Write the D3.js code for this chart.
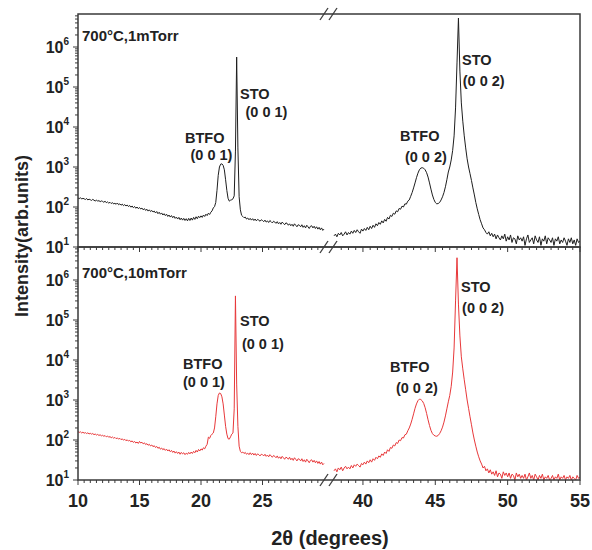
<!DOCTYPE html>
<html>
<head>
<meta charset="utf-8">
<script src="https://cdn.jsdelivr.net/npm/d3@7"></script>
<style>
  body { margin: 0; background: #fff; }
  text { font-family: Arial, "Liberation Sans", sans-serif; font-weight: bold; fill: #222; }
</style>
</head>
<body>
<div id="chart"></div>
<script>
// sampling of the scans (deg 2theta)
const angleStep = 0.1;
const lowStart = 10;   // left part of broken axis, 10 - 30
const highStart = 38;  // right part, 38 - 55

const lowTickLabels = [10, 15, 20, 25];
const highTickLabels = [40, 45, 50, 55];
const decadeExps = [1, 2, 3, 4, 5, 6];

const panelTitles = ["700°C,1mTorr", "700°C,10mTorr"];

// 700C, 1 mTorr  (black)
const scan1mLow = [
  168,162,171,158,165,160,154,163,150,157,
  152,146,155,148,141,150,139,145,136,142,
  138,131,140,128,134,125,131,122,129,119,
  124,117,126,114,120,111,118,108,115,106,
  112,103,109,99,106,96,103,93,100,91,
  97,89,94,85,91,82,88,79,85,77,
  82,75,79,71,77,68,74,66,71,63,
  68,61,66,58,63,56,61,54,59,52,
  56,50,55,48,53,47,52,46,51,45,
  52,46,53,47,55,49,57,51,59,54,
  60,55,63,58,66,61,70,65,74,80,
  95,102,130,260,620,1000,1180,1200,1100,850,
  480,260,165,140,148,152,160,190,2500,560000,
  3000,180,85,62,58,54,56,50,53,48,
  52,47,51,46,50,45,49,47,44,48,
  46,43,47,42,45,41,46,43,40,44,
  42,39,43,38,41,37,42,39,36,40,
  39,35,38,34,37,33,38,35,32,36,
  35,32,36,31,34,30,35,32,29,33,
  34,30,33,29,32,28,31,27,30,26,
  28
];
const scan1mHigh = [
  19,21,18,22,20,23,19,21,24,20,
  23,21,25,22,26,23,27,24,22,28,
  25,29,26,31,27,33,29,35,31,38,
  34,41,37,45,40,49,44,55,50,62,
  58,70,66,80,76,92,88,105,100,120,
  118,140,150,185,230,300,400,540,700,850,
  940,960,930,850,720,560,400,280,200,155,
  130,120,122,130,150,180,230,320,480,750,
  1000,1500,2600,6000,30000,400000,5300000,250000,40000,14000,
  6000,3000,1600,1000,680,460,300,200,130,90,
  65,48,38,30,27,23,21,24,19,22,
  18,21,16,20,17,15,19,16,21,14,
  18,15,20,13,17,16,12,19,15,17,
  14,18,11,16,20,13,15,17,12,19,
  15,13,18,11,16,14,19,12,17,15,
  13,17,11,16,14,18,12,15,13,17,
  14,11,16,13,17,12,15,11,16,13,
  14
];

// 700C, 10 mTorr  (red)
const scan10mLow = [
  162,155,160,150,157,148,153,145,151,142,
  147,140,145,136,141,133,138,130,135,127,
  131,124,129,120,126,117,122,114,119,111,
  116,108,113,105,110,102,107,99,104,96,
  101,94,98,90,95,87,92,84,89,82,
  92,84,88,80,85,77,81,74,78,71,
  75,68,72,65,69,62,66,59,63,57,
  61,55,59,53,57,51,55,49,53,47,
  51,46,50,44,49,45,48,43,47,44,
  49,45,50,46,52,48,55,50,58,53,
  60,56,64,60,70,78,118,110,130,140,
  150,200,380,800,1300,1500,1450,1200,800,420,
  220,140,108,105,120,140,150,600,400000,2500,
  220,70,52,48,50,46,49,44,47,43,
  48,43,47,42,46,41,45,43,40,44,
  43,40,44,39,42,38,43,40,37,41,
  39,36,40,35,38,34,39,36,33,37,
  36,33,37,32,35,31,36,33,30,34,
  33,30,34,29,32,28,33,30,27,31,
  32,28,31,27,30,26,29,25,28,24,
  26
];
const scan10mHigh = [
  17,19,16,20,18,21,17,20,22,19,
  21,19,23,20,24,22,25,23,21,26,
  24,28,25,30,27,32,28,34,31,37,
  34,40,37,45,41,50,46,57,52,65,
  62,75,71,86,82,100,96,115,112,135,
  140,170,200,250,330,450,620,800,960,1050,
  1030,950,820,640,460,320,230,175,145,132,
  126,124,130,145,170,210,280,400,600,900,
  1300,2200,5000,20000,300000,3600000,250000,40000,12000,6000,
  3200,1800,1000,620,380,240,150,100,70,50,
  38,30,25,20,22,17,19,15,18,14,
  16,13,17,12,15,14,11,16,13,15,
  12,15,11,14,13,10,15,12,14,11,
  13,11,14,10,12,15,11,13,10,14,
  12,10,13,11,14,10,12,11,13,10,
  11,13,10,12,11,14,10,12,11,13,
  10,12,11,13,10,12,11,10,13,11,
  12
];

// peak labels: [text, angle, intensity at text baseline]
const peakLabels1m = [
  ["STO", 23.17, 50000], ["(0 0 1)", 23.62, 17800],
  ["BTFO", 18.7, 4000], ["(0 0 1)", 19.15, 1500],
  ["STO", 46.85, 355000], ["(0 0 2)", 46.9, 106000],
  ["BTFO", 42.56, 4470], ["(0 0 2)", 42.9, 1330]
];
const peakLabels10m = [
  ["STO", 23.17, 71000], ["(0 0 1)", 23.33, 19000],
  ["BTFO", 18.54, 6000], ["(0 0 1)", 18.54, 2100],
  ["STO", 46.78, 500000], ["(0 0 2)", 46.85, 150000],
  ["BTFO", 41.87, 5000], ["(0 0 2)", 42.28, 1500]
];

/****** drawing ********/
const W = 592, H = 550;
const frameColor = "#3a3a3a";

const svg = d3.select("#chart").append("svg")
  .attr("width", W).attr("height", H);

const xLow = d3.scaleLinear().domain([10, 30]).range([78, 324]);
const xHigh = d3.scaleLinear().domain([38, 55]).range([334, 580]);
const plotLeft = 78, plotRight = 580;

const panels = [
  { top: 14, bottom: 247, low: scan1mLow, high: scan1mHigh, color: "#1e1e1e",
    title: panelTitles[0], labels: peakLabels1m, titleDy: 27 },
  { top: 247, bottom: 480, low: scan10mLow, high: scan10mHigh, color: "#e8383a",
    title: panelTitles[1], labels: peakLabels10m, titleDy: 31 }
];

const breakMarks = function(y) {
  [324, 333].forEach(function(cx) {
    svg.append("line")
      .attr("x1", cx - 4).attr("y1", y + 6)
      .attr("x2", cx + 4).attr("y2", y - 6)
      .attr("stroke", frameColor).attr("stroke-width", 1.3);
  });
}

const xTicks = function(y, withLabels) {
  const g = svg.append("g");
  const lowTicks = d3.range(10, 29.9, 0.5);
  const highTicks = d3.range(38.5, 55.01, 0.5);
  const put = function(scale, vals) {
    vals.forEach(function(v) {
      const major = Math.abs(v % 5) < 1e-6;
      g.append("line")
        .attr("x1", scale(v)).attr("x2", scale(v))
        .attr("y1", y).attr("y2", y + (major ? 5 : 3))
        .attr("stroke", frameColor).attr("stroke-width", 1);
    });
  };
  put(xLow, lowTicks);
  put(xHigh, highTicks);
  if (withLabels) {
    lowTickLabels.forEach(function(v) {
      g.append("text").attr("x", xLow(v)).attr("y", y + 27)
        .attr("text-anchor", "middle").attr("font-size", 18).text(v);
    });
    highTickLabels.forEach(function(v) {
      g.append("text").attr("x", xHigh(v)).attr("y", y + 27)
        .attr("text-anchor", "middle").attr("font-size", 18).text(v);
    });
  }
}

panels.forEach(function(p, idx) {
  const y = d3.scaleLog().domain([10, Math.pow(10, 6.825)]).range([p.bottom, p.top]);

  // clip
  const clipId = "clip" + idx;
  svg.append("clipPath").attr("id", clipId).append("rect")
    .attr("x", plotLeft).attr("y", p.top)
    .attr("width", plotRight - plotLeft).attr("height", p.bottom - p.top);

  const lineLow = d3.line()
    .x(function(d, i) { return xLow(lowStart + i * angleStep); })
    .y(function(d) { return y(d); });
  const lineHigh = d3.line()
    .x(function(d, i) { return xHigh(highStart + i * angleStep); })
    .y(function(d) { return y(d); });

  const lg = svg.append("g").attr("clip-path", "url(#" + clipId + ")");
  lg.append("path").attr("d", lineLow(p.low))
    .attr("fill", "none").attr("stroke", p.color).attr("stroke-width", 1);
  lg.append("path").attr("d", lineHigh(p.high))
    .attr("fill", "none").attr("stroke", p.color).attr("stroke-width", 1);

  // y axis ticks (log, outward)
  const yg = svg.append("g");
  decadeExps.forEach(function(e) {
    for (let k = 1; k <= 9; k++) {
      const v = k * Math.pow(10, e);
      if (v > y.domain()[1]) break;
      yg.append("line")
        .attr("x1", plotLeft).attr("x2", plotLeft - (k == 1 ? 5 : 3))
        .attr("y1", y(v)).attr("y2", y(v))
        .attr("stroke", frameColor).attr("stroke-width", 1);
    }
    const t = yg.append("text")
      .attr("x", 69).attr("y", y(Math.pow(10, e)) + 6)
      .attr("text-anchor", "end").attr("font-size", 16);
    t.append("tspan").text("10");
    t.append("tspan").attr("dy", -8).attr("font-size", 10).text(e);
  });

  // frame
  svg.append("rect")
    .attr("x", plotLeft).attr("y", p.top)
    .attr("width", plotRight - plotLeft).attr("height", p.bottom - p.top)
    .attr("fill", "none").attr("stroke", frameColor).attr("stroke-width", 1.5);

  // condition text
  svg.append("text")
    .attr("x", plotLeft + 4).attr("y", p.top + p.titleDy)
    .attr("font-size", 15).text(p.title);

  // peak labels
  p.labels.forEach(function(l) {
    const sx = l[1] < 34 ? xLow(l[1]) : xHigh(l[1]);
    svg.append("text").attr("x", sx).attr("y", y(l[2]))
      .attr("font-size", 14.5).text(l[0]);
  });
});

xTicks(247, false);
xTicks(480, true);
breakMarks(14);
breakMarks(247);
breakMarks(480);

// axis titles
svg.append("text")
  .attr("transform", "translate(28,236) rotate(-90)")
  .attr("text-anchor", "middle").attr("font-size", 18)
  .text("Intensity(arb.units)");

svg.append("text")
  .attr("x", 330).attr("y", 545)
  .attr("text-anchor", "middle").attr("font-size", 20)
  .text("2θ (degrees)");
</script>
</body>
</html>
